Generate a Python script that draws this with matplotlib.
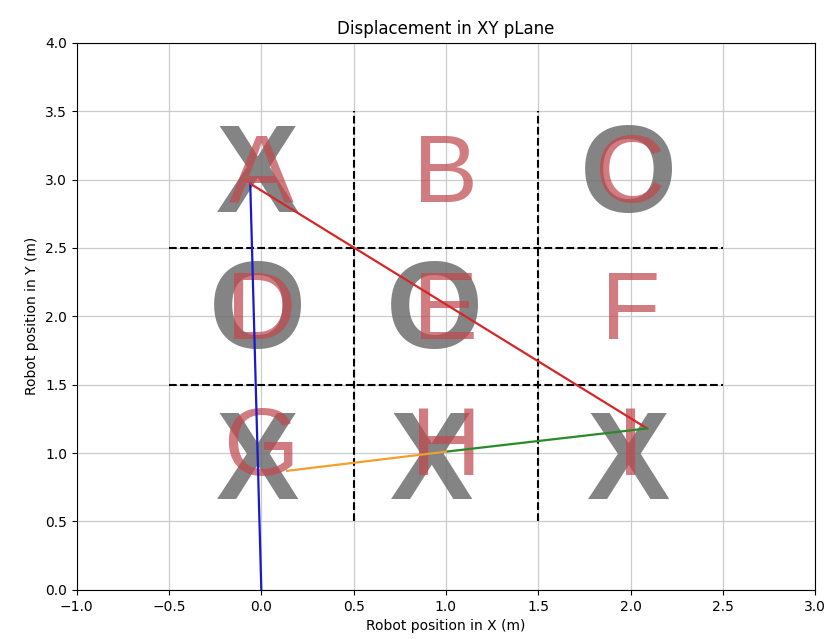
import matplotlib
matplotlib.use("Agg")
import matplotlib.pyplot as plt

# Board cell labels
cell_letters = ["A", "B", "C", "D", "E", "F", "G", "H", "I"]
cell_x = [0, 1, 2, 0, 1, 2, 0, 1, 2]
cell_y = [3, 3, 3, 2, 2, 2, 1, 1, 1]

# Pieces placed on board
piece_marks = ["X", "O", "O", "O", "X", "X", "X"]
piece_x = [-0.02, 1.99, -0.02, 0.94, -0.02, 0.92, 1.99]
piece_y = [3.0, 3.0, 2.0, 2.0, 0.9, 0.9, 0.9]

# Robot path segments
blue_x = [0.0, -0.06]
blue_y = [0.0, 2.97]
red_x = [-0.06, 2.09]
red_y = [2.97, 1.18]
green_x = [2.09, 1.0]
green_y = [1.18, 1.01]
orange_x = [1.0, 0.14]
orange_y = [1.01, 0.87]

# Board grid lines
vlines_x = [0.5, 1.5]
vlines_span = [0.5, 3.5]
hlines_y = [1.5, 2.5]
hlines_span = [-0.5, 2.5]

fig = plt.figure(figsize=(8.25, 6.39), dpi=100)
ax = fig.add_axes([0.093, 0.077, 0.895, 0.856])

ax.set_xlim(-1, 3)
ax.set_ylim(0, 4)
ax.set_xticks([-1.0, -0.5, 0.0, 0.5, 1.0, 1.5, 2.0, 2.5, 3.0])
ax.set_yticks([0.0, 0.5, 1.0, 1.5, 2.0, 2.5, 3.0, 3.5, 4.0])
ax.grid(True, color="#cccccc", linewidth=0.9)
ax.set_axisbelow(True)

for vx in vlines_x:
    ax.plot([vx, vx], vlines_span, color="black", linestyle="--", linewidth=1.5)
for hy in hlines_y:
    ax.plot(hlines_span, [hy, hy], color="black", linestyle="--", linewidth=1.5)

narrow = ["Liberation Sans Narrow", "Liberation Sans", "DejaVu Sans"]

for m, px, py in zip(piece_marks, piece_x, piece_y):
    ax.text(px, py, m, fontsize=90, fontweight="bold", color="#6e6e6e", alpha=0.85,
            ha="center", va="center", family=narrow, zorder=3)

for l, cx, cy in zip(cell_letters, cell_x, cell_y):
    ax.text(cx, cy + 0.02, l, fontsize=70, color="#c0494f", alpha=0.72,
            ha="center", va="center", family=narrow, zorder=4)

ax.plot(blue_x, blue_y, color="#1a1acc", linewidth=1.6, zorder=5)
ax.plot(red_x, red_y, color="#d62728", linewidth=1.6, zorder=5)
ax.plot(green_x, green_y, color="#2a8a2a", linewidth=1.6, zorder=5)
ax.plot(orange_x, orange_y, color="#f0a030", linewidth=1.6, zorder=5)

ax.set_title("Displacement in XY pLane", fontsize=12)
ax.set_xlabel("Robot position in X (m)", fontsize=10)
ax.set_ylabel("Robot position in Y (m)", fontsize=10)

fig.savefig("out.png", dpi=100)
